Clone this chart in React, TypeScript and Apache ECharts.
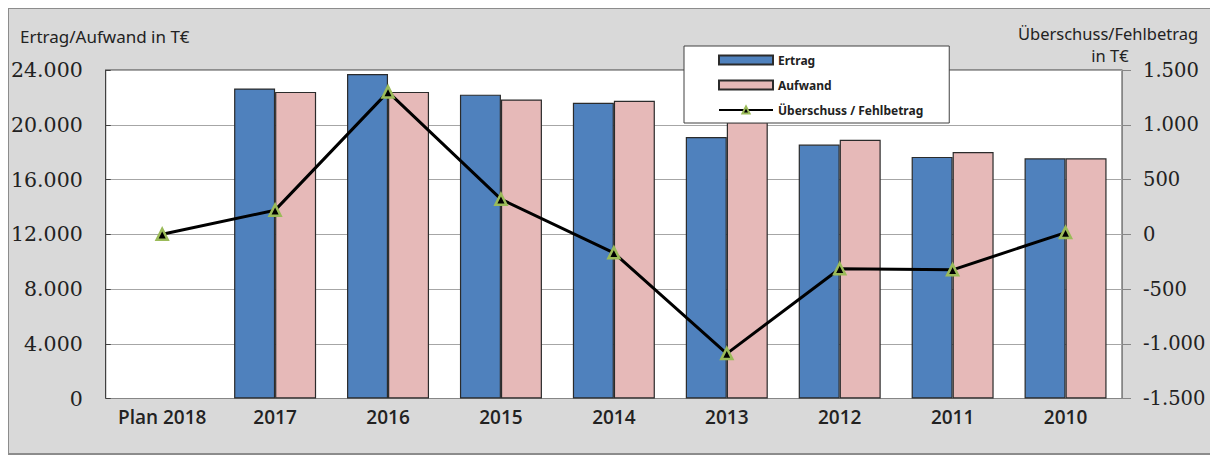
import React, { useEffect, useRef } from "react";
import * as echarts from "echarts";

const categories = ["Plan 2018", "2017", "2016", "2015", "2014", "2013", "2012", "2011", "2010"];
const ertrag = [null, 22650, 23700, 22200, 21600, 19100, 18550, 17650, 17550];
const aufwand = [null, 22400, 22400, 21850, 21750, 20200, 18900, 18000, 17550];
const ueberschuss = [0, 220, 1300, 320, -170, -1090, -315, -325, 15];
const leftTitle = "Ertrag/Aufwand in T€";
const rightTitleLine1 = "Überschuss/Fehlbetrag";
const rightTitleLine2 = "in T€";

function fmt(v: number): string {
  const neg = v < 0;
  const s = Math.abs(Math.round(v)).toString();
  const out = s.replace(/\B(?=(\d{3})+(?!\d))/g, ".");
  return (neg ? "-" : "") + out;
}

export default function App() {
  const ref = useRef<HTMLDivElement>(null);
  useEffect(() => {
    if (!ref.current) return;
    const chart = echarts.init(ref.current, null, { renderer: "svg" });
    const W = 1205, H = 447;
    chart.setOption({
      animation: false,
      backgroundColor: "#d9d9d9",
      grid: {
        left: 96, top: 62, right: W - 1114, bottom: H - 390.5,
        show: true, borderColor: "#404040", borderWidth: 1, backgroundColor: "#ffffff",
        containLabel: false,
      },
      legend: {
        orient: "vertical",
        left: 676, top: 38,
        backgroundColor: "#ffffff",
        borderColor: "#404040", borderWidth: 1,
        padding: [7, 26, 6, 34],
        itemWidth: 54, itemHeight: 9, itemGap: 11,
        textStyle: { fontFamily: "Noto Sans", fontWeight: "bold", fontSize: 12, color: "#222", lineHeight: 14 },
        data: [
          { name: "Ertrag", icon: "rect" },
          { name: "Aufwand", icon: "rect" },
          { name: "Überschuss / Fehlbetrag" },
        ],
      },
      xAxis: {
        type: "category",
        data: categories,
        axisLine: { lineStyle: { color: "#868686", width: 1 } },
        axisTick: { show: false },
        axisLabel: { interval: 0, fontFamily: "Open Sans", fontWeight: 600, fontSize: 19, color: "#222", margin: 9 },
      },
      yAxis: [
        {
          type: "value", min: 0, max: 24000, interval: 4000,
          axisLine: { show: true, lineStyle: { color: "#404040" } },
          axisTick: { show: true, inside: true, length: 5, lineStyle: { color: "#404040" } },
          splitLine: { show: true, lineStyle: { color: "#a6a6a6", width: 1 } },
          axisLabel: { fontFamily: "DejaVu Serif", fontSize: 20.5, color: "#222", margin: 23, formatter: (v: number) => fmt(v) },
        },
        {
          type: "value", min: -1500, max: 1500, interval: 500, position: "right",
          axisLine: { show: true, lineStyle: { color: "#868686" } },
          axisTick: { show: true, length: 9, lineStyle: { color: "#868686" } },
          splitLine: { show: false },
          axisLabel: { fontFamily: "DejaVu Serif", fontSize: 19.5, color: "#222", margin: 21, formatter: (v: number) => fmt(v) },
        },
      ],
      graphic: [
        {
          type: "rect", silent: true, z: 100,
          shape: { x: 0, y: 0, width: W - 1, height: H - 1 },
          style: { fill: "none", stroke: "#8c8c8c", lineWidth: 2 },
        },
        {
          type: "text", left: 12, top: 20, z: 100,
          style: { text: leftTitle, fontFamily: "Noto Sans", fontSize: 17, fill: "#222" },
        },
        {
          type: "text", x: 1100, y: 25, z: 100,
          style: { text: rightTitleLine1, fontFamily: "Noto Sans", fontSize: 16.5, fill: "#222", align: "center", verticalAlign: "middle" },
        },
        {
          type: "text", x: 1102, y: 47, z: 100,
          style: { text: rightTitleLine2, fontFamily: "Noto Sans", fontSize: 16.5, fill: "#222", align: "center", verticalAlign: "middle" },
        },
      ],
      series: [
        {
          name: "Ertrag", type: "bar", yAxisIndex: 0, data: ertrag,
          barWidth: 41, barGap: "0%",
          itemStyle: { color: "#4f81bd", borderColor: "#2b2b2b", borderWidth: 1.2 },
        },
        {
          name: "Aufwand", type: "bar", yAxisIndex: 0, data: aufwand,
          barWidth: 41, barGap: "0%",
          itemStyle: { color: "#e6b9b8", borderColor: "#2b2b2b", borderWidth: 1.2 },
        },
        {
          name: "Überschuss / Fehlbetrag", type: "line", yAxisIndex: 1, data: ueberschuss,
          lineStyle: { color: "#000000", width: 3 },
          symbol: "triangle", symbolSize: 11,
          itemStyle: { color: "#000000", borderColor: "#9bbb59", borderWidth: 2.5 },
          z: 5,
        },
      ],
    });
    return () => chart.dispose();
  }, []);
  return <div ref={ref} style={{ width: 1205, height: 447 }} />;
}
